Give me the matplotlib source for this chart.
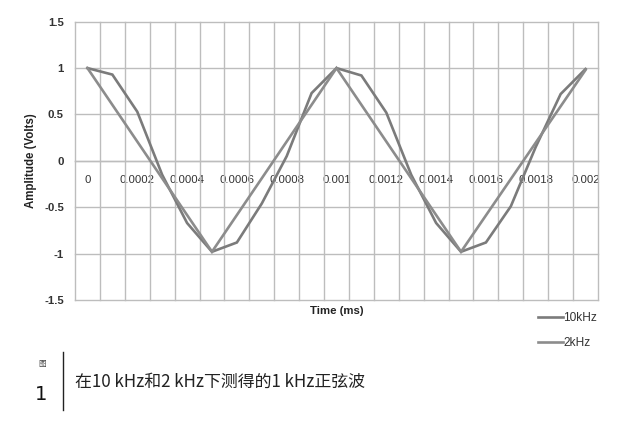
import matplotlib
matplotlib.use("Agg")
import matplotlib.pyplot as plt
from matplotlib.lines import Line2D

# ---- data ----
time_10k = [0.0, 0.0001, 0.0002, 0.0003, 0.0004, 0.0005, 0.0006, 0.0007, 0.0008, 0.0009,
            0.001, 0.0011, 0.0012, 0.0013, 0.0014, 0.0015, 0.0016, 0.0017, 0.0018, 0.0019, 0.002]
amp_10k = [1.0, 0.93, 0.53, -0.15, -0.67, -0.98, -0.88, -0.46, 0.05, 0.73,
           1.0, 0.92, 0.52, -0.15, -0.67, -0.98, -0.88, -0.49, 0.15, 0.72, 0.99]
time_2k = [0.0, 0.0005, 0.001, 0.0015, 0.002]
amp_2k = [1.0, -0.98, 1.0, -0.98, 0.98]
xtick_vals = [0, 0.0002, 0.0004, 0.0006, 0.0008, 0.001, 0.0012, 0.0014, 0.0016, 0.0018, 0.002]
xtick_labels = ["0", "0.0002", "0.0004", "0.0006", "0.0008", "0.001", "0.0012", "0.0014",
                "0.0016", "0.0018", "0.002"]
ytick_vals = [-1.5, -1, -0.5, 0, 0.5, 1, 1.5]
ytick_labels = ["-1.5", "-1", "-0.5", "0", "0.5", "1", "1.5"]
series_names = ["10kHz", "2kHz"]
caption = "在10 kHz和2 kHz下测得的1 kHz正弦波"

W, H = 641, 426
fig = plt.figure(figsize=(W / 100, H / 100), dpi=100)
fig.patch.set_facecolor("white")

L, R, T, B = 75, 598, 21.7, 300
ax = fig.add_axes([L / W, 1 - B / H, (R - L) / W, (B - T) / H])

grid_c = "#bdbdbd"
c10 = "#7b7b7b"
c2 = "#8c8c8c"

step = 0.0001
half = step / 2
ax.set_xlim(time_10k[0] - half, time_10k[-1] + half)
ax.set_ylim(-1.5, 1.5)

# category boundary grid lines
bounds = [t - half for t in time_10k] + [time_10k[-1] + half]
ax.set_xticks(bounds, minor=True)
ax.grid(which="minor", axis="x", color=grid_c, linewidth=1.0, clip_on=False)
ax.set_yticks(ytick_vals)
ax.set_yticklabels(ytick_labels)
ax.grid(which="major", axis="y", color=grid_c, linewidth=1.0, clip_on=False)
ax.set_xticks(xtick_vals)
ax.set_xticklabels(xtick_labels)

for s in ["top", "left", "right"]:
    ax.spines[s].set_visible(False)
ax.spines["bottom"].set_position(("data", 0))
ax.spines["bottom"].set_color(grid_c)
ax.spines["bottom"].set_linewidth(1.0)

ax.tick_params(axis="x", which="both", length=0, pad=10.5, labelsize=8.2,
               labelcolor="#333333")
ax.tick_params(axis="y", which="both", length=0, pad=8, labelsize=8.2,
               labelcolor="#333333")
for lab in ax.get_xticklabels():
    lab.set_family("Liberation Sans")
for lab in ax.get_yticklabels():
    lab.set_family("Liberation Sans")
    lab.set_fontweight("bold")

l1, = ax.plot(time_10k, amp_10k, color=c10, linewidth=1.9, solid_joinstyle="miter",
              label=series_names[0], zorder=3)
l2, = ax.plot(time_2k, amp_2k, color=c2, linewidth=1.9, solid_joinstyle="miter",
              label=series_names[1], zorder=3)

fig.text(31 / W, 1 - 161 / H, "Amplitude (Volts)", rotation=90, ha="center", va="center",
         fontsize=8.3, fontweight="bold", family="Liberation Sans", color="#222222")
fig.text(337 / W, 1 - 311 / H, "Time (ms)", ha="center", va="center",
         fontsize=8.2, fontweight="bold", family="Liberation Sans", color="#222222")

leg = fig.legend(handles=[l1, l2], labels=series_names, loc="upper left",
                 bbox_to_anchor=(538 / W, 1 - 312 / H), frameon=False,
                 borderpad=0, borderaxespad=0, handlelength=2.1, handletextpad=0.0,
                 labelspacing=1.1, prop={"family": "Liberation Sans", "size": 8.6})
for t in leg.get_texts():
    t.set_color("#333333")

# caption
fig.add_artist(Line2D([63 / W, 63 / W], [1 - 352 / H, 1 - 410 / H], color="#222222",
                      linewidth=1.0, transform=fig.transFigure))
fig.text(42 / W, 1 - 364 / H, "图", ha="center", va="center", fontsize=5.5,
         family=["Noto Sans CJK SC", "DejaVu Sans"], color="#444444")
fig.text(41 / W, 1 - 394 / H, "1", ha="center", va="center", fontsize=14,
         family="DejaVu Sans", color="#111111")
fig.text(75 / W, 1 - 382 / H, caption, ha="left", va="center", fontsize=12.2,
         family=["Noto Sans CJK SC", "DejaVu Sans"], color="#222222")

fig.savefig("out.png", dpi=100, facecolor="white")
